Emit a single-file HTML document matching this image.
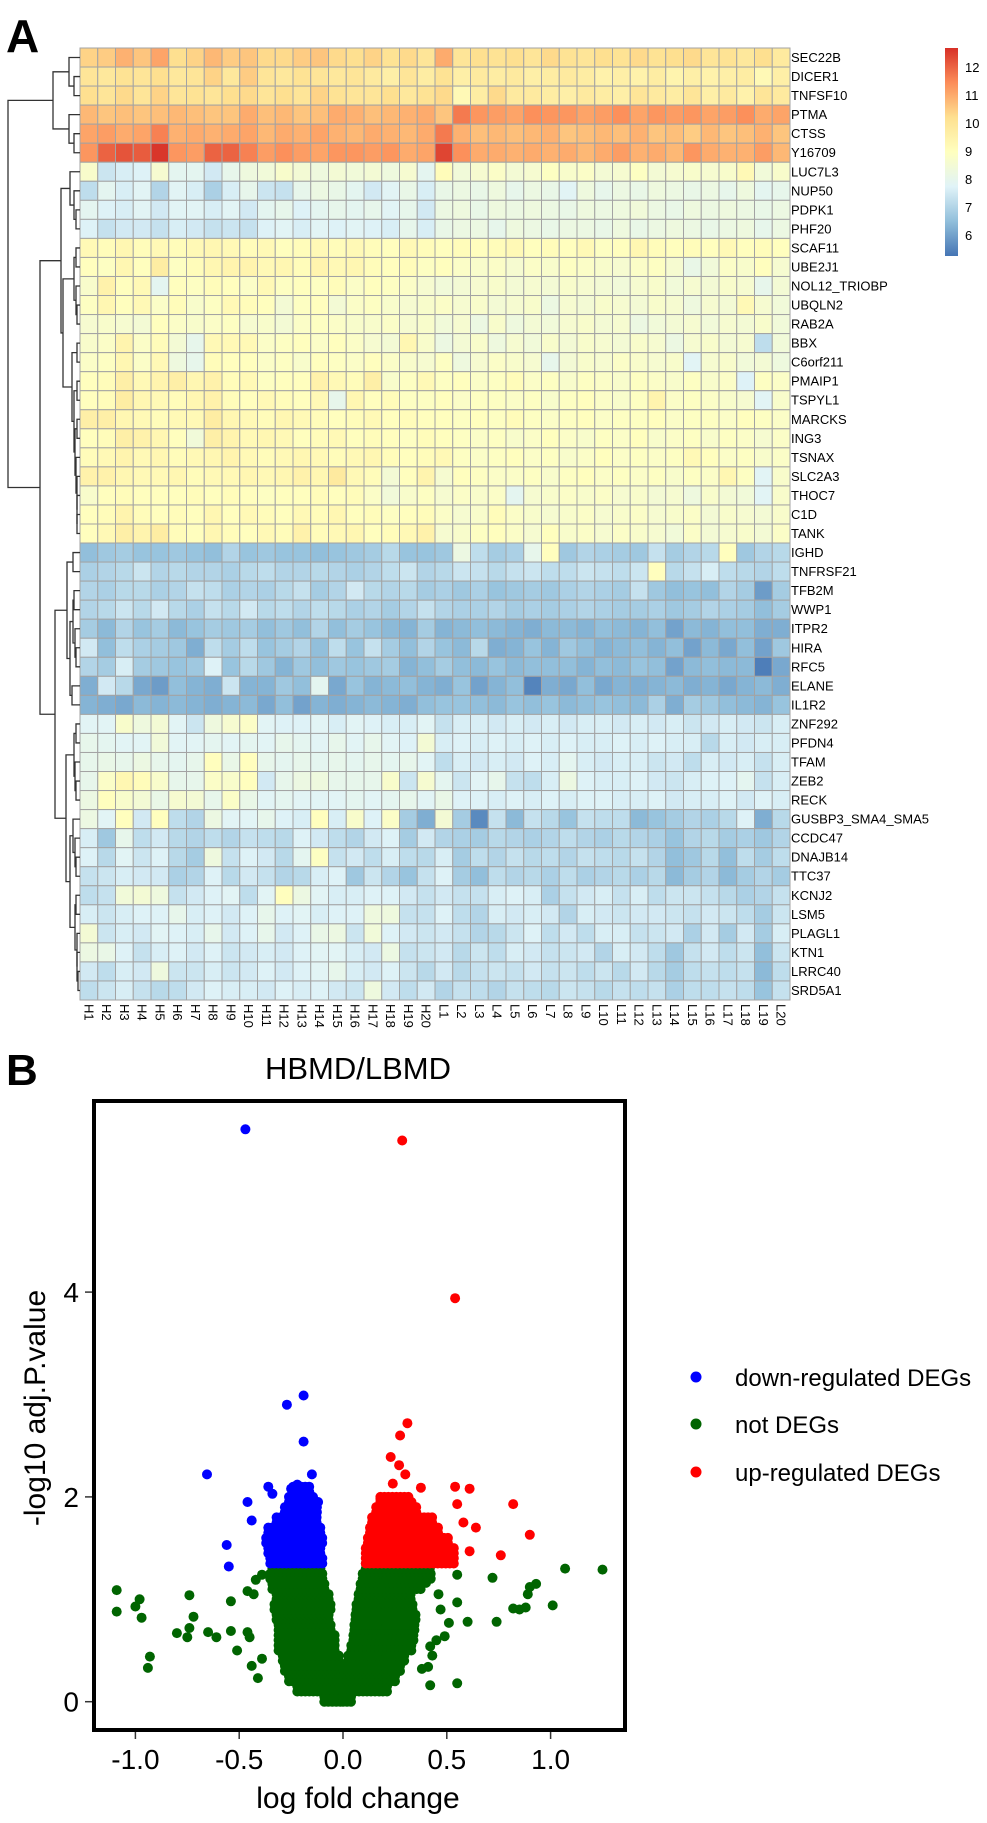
<!DOCTYPE html>
<html><head><meta charset="utf-8"><style>
html,body{margin:0;padding:0;background:#fff;}
svg{display:block;font-family:"Liberation Sans",Arial,sans-serif;}
</style></head><body>
<svg id="fig" width="987" height="1823" viewBox="0 0 987 1823" xmlns="http://www.w3.org/2000/svg">
<defs>
<linearGradient id="cbar" x1="0" y1="1" x2="0" y2="0">
<stop offset="0" stop-color="#4575B4"/><stop offset="0.1667" stop-color="#91BFDB"/><stop offset="0.3333" stop-color="#E0F3F8"/><stop offset="0.5" stop-color="#FFFFBF"/><stop offset="0.6667" stop-color="#FEE090"/><stop offset="0.8333" stop-color="#FC8D59"/><stop offset="1" stop-color="#D73027"/>
</linearGradient>
</defs>
<text x="6" y="52" font-size="46" font-weight="bold">A</text>
<text x="6" y="1085" font-size="44" font-weight="bold">B</text>
<g id="heat"></g>
<g id="dendro"></g>
<g id="rowlabels"></g>
<g id="collabels"></g>
<g>
<rect x="945" y="48" width="13" height="208" fill="url(#cbar)"/>
<g id="cticks"></g>
</g>
<text x="358" y="1079" font-size="31" text-anchor="middle">HBMD/LBMD</text>
<g id="volcano"></g>
<rect x="94" y="1101" width="531" height="629" fill="none" stroke="#000" stroke-width="4"/>
<g id="axes"></g>
<text x="358" y="1808" font-size="30" text-anchor="middle">log fold change</text>
<text x="0" y="0" font-size="30" text-anchor="middle" transform="translate(45,1408) rotate(-90)">-log10 adj.P.value</text>
<g>
<circle cx="696" cy="1377" r="5.5" fill="#0000FF"/>
<text x="735" y="1386" font-size="24">down-regulated DEGs</text>
<circle cx="696" cy="1424" r="5.5" fill="#006400"/>
<text x="735" y="1433" font-size="24">not DEGs</text>
<circle cx="696" cy="1472" r="5.5" fill="#FF0000"/>
<text x="735" y="1481" font-size="24">up-regulated DEGs</text>
</g>
</svg>
<script>
const NS="http://www.w3.org/2000/svg";
const geneNames=["SEC22B","DICER1","TNFSF10","PTMA","CTSS","Y16709","LUC7L3","NUP50","PDPK1","PHF20","SCAF11","UBE2J1","NOL12_TRIOBP","UBQLN2","RAB2A","BBX","C6orf211","PMAIP1","TSPYL1","MARCKS","ING3","TSNAX","SLC2A3","THOC7","C1D","TANK","IGHD","TNFRSF21","TFB2M","WWP1","ITPR2","HIRA","RFC5","ELANE","IL1R2","ZNF292","PFDN4","TFAM","ZEB2","RECK","GUSBP3_SMA4_SMA5","CCDC47","DNAJB14","TTC37","KCNJ2","LSM5","PLAGL1","KTN1","LRRC40","SRD5A1"];
const sampleNames=["H1","H2","H3","H4","H5","H6","H7","H8","H9","H10","H11","H12","H13","H14","H15","H16","H17","H18","H19","H20","L1","L2","L3","L4","L5","L6","L7","L8","L9","L10","L11","L12","L13","L14","L15","L16","L17","L18","L19","L20"];
const colorTicks=[6,7,8,9,10,11,12];
const heatValues=[
[10.4,10.5,10.9,10.6,11.1,10.2,10.4,10.8,10.5,10.6,10.3,10.3,10.5,10.6,10.3,10.2,10.4,10.1,10.3,10.0,11.0,10.0,10.2,10.1,10.2,10.0,10.3,10.1,10.0,10.2,10.1,10.3,10.1,10.2,10.3,10.0,10.1,9.9,10.2,9.8],
[10.0,9.9,10.1,10.0,10.2,9.9,10.0,10.4,9.9,10.5,10.0,9.9,10.1,10.0,9.9,10.0,9.8,9.6,10.0,9.7,10.1,9.6,9.8,9.7,9.8,9.6,9.7,9.8,9.7,9.5,9.6,9.5,9.7,9.4,9.6,9.5,9.6,9.7,9.2,9.6],
[10.2,10.0,10.3,10.0,10.4,10.0,10.1,10.0,10.2,10.3,10.0,10.2,10.0,10.4,10.1,10.0,10.0,10.2,9.9,10.1,10.3,9.2,9.7,10.3,9.8,9.8,9.7,9.6,9.8,9.7,9.6,10.0,9.8,9.7,10.0,9.6,9.8,9.5,10.0,9.8],
[10.8,10.6,10.7,10.6,10.7,10.8,10.7,10.6,10.6,11.0,10.7,10.8,10.6,10.7,11.0,10.9,10.7,10.8,10.9,11.0,10.6,11.7,11.3,11.2,11.1,11.4,11.3,11.3,11.1,11.2,11.4,11.1,11.3,11.2,11.3,11.1,11.2,11.4,11.0,11.1],
[11.1,11.2,11.0,11.1,11.6,10.9,11.0,10.9,11.0,11.1,10.8,11.0,10.9,11.1,10.9,10.8,11.0,10.9,10.8,11.0,11.7,10.9,10.7,10.8,10.7,10.8,10.9,10.6,10.7,10.8,10.7,10.9,10.6,10.7,10.5,10.8,10.6,10.7,10.9,10.6],
[11.3,12.0,12.2,12.1,12.6,11.3,11.2,12.0,12.0,11.6,11.2,11.4,11.2,11.1,11.3,11.3,11.2,11.3,11.0,11.1,12.4,11.4,11.0,11.0,10.9,11.0,10.9,11.0,10.8,11.0,11.2,10.9,11.0,10.8,11.3,11.0,10.9,10.9,11.2,10.8],
[8.7,7.4,7.6,7.7,8.6,7.9,7.9,7.5,8.0,8.3,8.4,8.7,8.5,8.3,8.5,8.4,8.5,8.3,8.6,7.9,9.1,8.4,8.6,8.8,8.5,8.6,8.9,8.7,8.8,8.5,8.6,8.9,8.5,8.6,8.7,8.6,8.7,9.2,8.4,8.7],
[7.2,7.9,7.6,7.8,7.0,7.8,7.6,6.9,7.6,8.0,7.4,7.3,8.0,8.2,8.1,7.9,7.5,7.8,8.1,7.6,8.1,8.2,8.1,8.3,8.0,8.2,8.1,7.8,8.3,8.0,8.2,8.1,8.3,8.2,8.1,8.2,8.0,8.3,7.9,8.0],
[7.9,7.7,7.6,7.8,7.5,7.8,7.8,7.6,7.8,7.5,7.9,8.0,7.7,7.9,8.0,7.9,8.0,7.8,8.0,7.5,8.2,8.3,8.1,8.3,8.2,8.3,8.2,8.1,8.3,8.2,8.3,8.4,8.2,8.1,8.3,8.2,8.3,8.2,8.1,8.2],
[7.7,7.3,7.5,7.5,7.3,7.6,7.5,7.3,7.4,7.3,7.7,7.8,7.6,7.8,7.7,7.8,7.7,7.6,8.0,7.6,8.1,8.2,8.2,8.0,8.3,8.2,8.1,8.2,8.2,8.1,8.3,8.1,8.2,8.3,8.2,8.1,8.2,8.3,8.0,8.2],
[9.2,9.1,9.3,9.1,9.2,9.1,9.2,9.3,9.2,9.1,9.2,9.0,9.1,9.2,9.1,9.2,9.1,9.0,9.2,9.1,9.0,9.1,9.0,9.1,9.2,9.0,9.1,9.0,9.2,8.9,9.0,9.3,9.1,9.0,9.1,9.0,9.2,9.0,9.1,9.0],
[9.0,8.9,9.3,9.0,9.7,8.9,9.1,9.3,9.4,9.4,9.2,9.3,9.1,9.4,9.2,9.3,9.1,9.0,9.1,8.9,9.0,8.8,8.7,8.8,8.6,8.8,8.7,8.9,8.8,8.7,8.6,8.8,8.9,8.6,8.1,8.4,8.8,8.7,9.0,8.6],
[8.7,9.5,9.0,9.2,7.9,9.0,8.9,9.1,9.0,8.8,9.2,8.9,9.0,8.9,9.1,8.8,9.0,8.9,8.8,8.6,8.4,8.5,8.6,8.7,8.5,8.6,8.5,8.7,8.6,8.5,8.4,8.6,8.7,8.4,8.6,8.5,8.7,8.6,8.0,8.5],
[8.9,9.3,9.0,9.2,8.8,9.1,8.7,8.9,9.2,9.1,9.0,8.5,8.9,9.0,8.5,8.8,8.9,8.7,8.6,8.7,8.8,8.6,8.7,8.5,8.6,8.7,8.2,8.6,8.5,8.7,8.6,8.5,8.7,8.6,8.3,8.6,8.5,9.2,8.6,8.4],
[8.6,8.7,8.6,8.5,9.0,8.8,8.7,8.8,8.9,8.6,8.7,8.5,8.8,8.9,8.8,8.7,8.7,8.8,8.6,8.7,8.4,8.6,8.2,8.7,8.3,8.5,8.4,8.6,8.7,8.5,8.6,8.2,8.4,8.5,8.6,8.4,8.6,8.5,8.7,8.4],
[8.7,8.8,9.4,8.8,9.1,8.5,8.0,9.2,9.2,9.2,8.8,8.9,9.0,8.8,9.0,8.8,8.6,8.5,9.3,8.7,8.2,8.5,8.7,8.3,8.6,8.4,8.7,8.5,8.7,8.6,8.5,8.7,8.6,8.2,8.6,8.7,8.5,8.6,7.2,8.4],
[8.8,8.9,9.3,8.8,9.2,8.3,8.0,9.1,9.0,9.0,8.8,8.9,8.7,9.0,8.9,8.8,9.0,8.8,8.7,8.6,8.9,8.3,8.6,8.8,8.7,8.6,8.0,8.5,8.7,8.6,8.8,8.7,8.6,8.7,7.8,8.6,8.7,8.4,8.5,8.3],
[9.0,9.1,9.6,9.2,9.4,9.6,9.3,9.5,9.1,9.2,8.9,9.0,9.0,9.5,9.2,9.1,9.6,8.7,8.9,9.2,8.9,9.0,8.8,8.9,9.1,8.8,8.9,8.7,8.9,8.8,8.7,8.9,8.8,8.7,8.9,8.7,8.8,7.7,8.9,8.8],
[9.0,9.1,9.7,9.3,9.2,9.1,9.3,9.5,9.1,9.0,9.2,9.1,9.0,9.2,8.0,9.3,9.0,9.1,8.9,8.9,9.0,8.8,8.9,8.9,8.8,8.9,8.7,8.9,9.0,8.8,8.7,8.9,9.4,8.8,8.9,8.8,8.7,8.6,7.8,8.7],
[9.6,9.6,9.3,9.2,9.1,9.2,9.2,9.7,9.3,9.2,9.1,9.3,9.2,9.1,9.0,9.1,9.2,9.0,9.1,9.0,9.0,8.9,9.0,8.9,9.1,8.9,8.8,8.9,9.0,8.8,8.9,8.9,9.0,8.8,8.9,8.9,8.8,9.0,8.9,8.8],
[9.0,9.1,9.6,9.5,9.3,9.0,8.4,9.6,9.4,9.2,9.3,9.2,9.0,9.1,9.2,9.0,9.1,9.0,8.9,9.1,9.0,8.9,8.8,8.9,8.7,8.8,9.0,8.8,8.7,8.9,8.8,9.0,8.7,8.8,8.9,8.7,8.9,8.8,8.6,8.8],
[9.1,9.2,9.4,9.2,9.3,9.1,9.2,9.3,9.4,9.2,9.1,9.2,9.3,9.2,9.1,9.2,9.3,9.1,9.0,9.1,9.2,8.9,8.8,8.9,9.0,8.8,8.9,8.7,8.8,9.0,8.8,8.9,8.8,8.9,9.2,9.0,8.8,8.9,8.7,8.8],
[9.5,9.5,9.3,9.2,9.2,9.3,9.1,9.2,9.2,9.3,9.2,9.3,9.5,9.3,9.8,9.2,9.1,8.5,9.0,9.4,8.6,9.0,8.9,8.8,8.8,8.9,8.7,8.9,9.0,8.8,8.9,8.8,8.9,8.7,8.9,8.8,9.3,8.9,7.8,8.7],
[8.7,9.0,9.1,9.0,9.0,9.0,9.1,9.0,9.1,9.0,8.9,9.0,9.0,9.1,9.0,9.1,8.8,8.4,8.7,8.9,8.6,8.8,8.7,8.8,7.9,8.6,8.7,8.8,8.7,8.8,8.6,8.7,8.5,8.6,8.3,8.7,8.5,8.4,7.8,8.7],
[9.0,9.1,9.4,9.1,9.0,9.1,9.0,9.3,9.0,9.2,9.1,9.0,9.2,9.1,9.3,9.0,9.1,8.9,9.0,9.1,8.8,8.6,8.7,9.1,8.8,8.7,8.6,8.7,8.8,8.6,8.7,8.8,8.6,8.7,8.8,8.5,8.7,8.6,8.5,8.7],
[9.0,9.2,9.6,9.4,9.7,9.1,9.0,9.3,9.1,9.0,9.2,9.1,9.5,9.1,9.2,9.3,9.0,9.1,9.2,9.5,8.6,8.7,8.9,9.0,8.8,8.6,9.0,8.7,8.8,8.6,8.8,8.7,8.6,8.4,8.8,8.5,8.6,8.7,8.5,8.8],
[6.5,6.7,6.8,6.6,6.6,6.7,6.6,6.5,7.0,6.6,6.7,6.6,6.6,6.5,6.6,6.7,6.8,7.1,6.6,6.6,6.7,8.2,7.2,6.8,6.9,8.0,9.0,6.7,7.0,6.9,6.8,6.7,7.3,6.8,7.0,7.1,9.0,6.7,7.0,7.1],
[6.9,7.0,7.1,7.4,7.0,7.1,7.0,7.0,6.9,7.1,7.2,7.0,7.0,7.1,7.0,6.9,7.0,7.2,7.4,7.0,7.1,7.4,7.3,7.1,7.3,7.4,7.2,7.2,7.4,7.3,7.2,7.4,9.0,7.1,7.3,7.6,7.2,7.1,7.0,7.2],
[7.0,6.9,7.1,7.1,6.9,7.0,7.3,7.2,6.9,7.0,6.9,7.1,7.3,6.8,7.0,7.5,7.1,7.0,7.1,6.8,6.9,6.7,6.9,6.6,6.7,6.8,6.7,6.9,7.0,6.9,6.8,7.3,6.7,6.5,6.6,6.5,7.0,6.8,5.9,6.8],
[7.0,7.1,7.4,7.1,7.5,7.1,6.9,7.3,7.1,7.5,7.1,7.2,7.0,7.2,7.1,6.9,7.0,6.8,7.0,7.3,7.0,6.9,6.9,7.0,6.8,6.9,6.8,6.9,7.0,6.9,6.8,6.8,6.9,6.7,6.8,7.0,6.9,6.8,6.5,6.8],
[6.8,6.4,7.0,6.6,6.8,6.4,6.6,6.8,6.7,6.8,6.5,6.7,6.5,7.0,6.5,6.8,6.6,6.4,6.3,6.8,6.3,6.4,6.5,6.4,6.3,6.2,6.4,6.4,6.3,6.5,6.4,6.3,6.5,6.0,6.4,6.3,6.5,6.5,6.2,6.2],
[7.5,6.5,7.2,6.9,6.8,6.7,6.2,7.2,6.8,7.2,6.6,6.8,7.0,6.5,7.2,6.6,7.3,6.8,6.5,7.0,6.6,6.4,7.1,6.2,6.3,6.6,6.3,6.7,6.5,6.3,6.4,6.5,6.3,6.5,6.0,6.4,6.1,6.5,6.0,6.7],
[7.0,6.8,7.6,6.8,6.7,6.6,6.7,7.7,6.6,7.1,6.7,6.3,6.7,6.5,6.7,6.6,6.7,6.8,6.3,6.5,6.8,6.5,6.4,6.6,6.4,6.5,6.5,6.5,6.3,6.5,6.4,6.6,6.5,6.0,6.4,6.5,6.4,6.4,5.4,6.1],
[6.2,7.5,7.1,6.1,5.9,6.5,6.3,6.2,7.4,6.3,6.3,6.7,6.5,7.9,6.1,6.6,6.3,6.4,6.5,6.3,6.2,6.6,6.0,6.3,6.5,5.5,6.2,6.1,6.5,6.1,6.3,6.2,6.3,6.4,6.2,6.3,6.1,6.3,6.4,6.2],
[6.3,6.2,6.1,6.4,6.3,6.4,6.3,6.2,6.3,6.4,6.1,6.5,6.0,6.3,6.2,6.3,6.4,6.3,6.2,6.5,6.6,6.6,6.5,6.4,6.6,6.5,6.6,6.4,6.5,6.6,6.5,6.4,6.9,6.2,6.8,6.7,6.5,6.4,6.3,6.6],
[7.8,7.8,8.7,8.3,8.5,7.8,7.4,8.3,8.6,8.8,7.8,7.7,7.7,7.8,7.6,7.8,7.7,7.6,7.6,7.8,7.3,7.6,7.6,7.5,7.6,7.5,7.6,7.5,7.6,7.6,7.5,7.6,7.5,7.6,7.4,7.5,7.6,7.5,7.4,7.6],
[8.0,7.9,7.8,7.8,8.4,7.8,7.8,7.9,7.8,7.9,7.8,8.0,7.9,7.8,8.0,7.8,8.0,7.8,7.7,8.5,7.6,7.7,7.6,7.7,7.6,7.7,7.6,7.7,7.6,7.6,7.7,7.6,7.7,7.6,7.6,7.1,7.6,7.5,7.6,7.6],
[8.0,8.1,8.0,8.2,8.0,7.9,8.0,9.0,8.1,9.0,8.0,7.9,8.0,7.9,8.0,7.9,8.0,7.9,8.0,7.8,7.2,7.6,7.5,7.6,7.5,7.7,7.6,7.9,7.6,7.5,7.6,7.6,7.4,7.5,7.2,7.6,7.5,7.6,7.3,7.6],
[8.0,8.8,9.3,9.1,8.7,8.0,8.0,8.8,8.7,9.0,7.5,8.0,8.2,8.3,8.0,8.0,8.0,8.7,7.4,8.6,7.9,7.4,7.8,8.0,7.3,7.2,7.6,8.2,7.7,7.6,7.6,7.7,7.5,7.4,7.6,7.7,7.7,7.9,7.3,7.6],
[8.2,9.0,8.7,8.5,8.1,8.6,8.5,8.0,8.8,8.1,7.8,7.9,7.8,7.8,7.8,7.9,7.8,7.9,8.0,7.8,8.1,7.7,7.7,7.6,7.7,7.6,7.7,7.6,7.7,7.7,7.6,7.6,7.7,7.5,7.6,7.6,7.7,7.5,7.7,7.6],
[8.2,7.8,9.0,7.5,9.0,7.2,7.0,8.2,7.8,7.8,8.0,7.7,7.6,9.0,7.6,8.7,7.7,8.8,6.8,6.2,8.5,6.8,5.6,7.3,6.4,7.3,7.1,6.6,7.3,7.2,7.2,6.4,6.6,6.8,7.0,6.9,7.1,7.7,6.2,7.1],
[7.6,6.7,8.0,7.2,7.5,7.1,7.0,7.2,7.0,7.3,7.2,7.1,7.7,7.5,7.2,7.0,7.5,7.7,6.8,7.5,7.0,6.9,6.8,7.1,7.0,6.9,7.0,7.2,7.0,6.9,7.1,7.0,6.9,6.6,7.0,7.1,6.8,6.9,6.7,7.0],
[7.7,7.1,7.8,7.4,7.7,7.1,6.8,8.3,7.3,7.7,7.5,7.1,7.9,8.9,7.3,7.5,7.2,7.6,7.2,7.1,7.6,6.8,7.2,7.0,7.3,7.1,7.2,7.0,7.3,7.2,7.1,7.3,7.0,6.5,6.7,7.1,6.5,7.2,6.8,7.2],
[7.3,7.4,7.6,7.5,7.5,6.9,7.0,7.7,7.1,7.5,7.3,7.0,7.1,7.6,7.7,6.7,7.4,7.0,6.6,7.3,7.7,6.8,6.5,7.2,7.0,7.1,6.9,7.2,6.9,7.0,7.1,6.9,7.1,6.4,6.8,7.0,6.4,6.8,7.0,6.8],
[7.2,7.3,8.4,8.5,8.3,7.3,7.5,7.7,7.8,7.2,7.8,9.0,8.2,7.8,7.6,7.6,7.7,7.7,7.5,7.3,7.5,7.3,7.3,7.6,7.7,7.6,6.9,7.3,7.5,7.6,7.3,7.6,7.2,7.4,7.4,7.3,7.1,6.9,7.0,7.3],
[7.6,7.4,7.6,7.7,7.7,8.0,7.6,7.7,7.5,7.7,8.0,7.7,7.8,7.6,7.7,7.7,8.3,8.3,7.3,7.3,7.7,7.2,7.0,7.6,7.5,7.6,7.5,7.0,7.6,7.5,7.4,7.5,7.5,7.4,7.3,7.5,7.4,7.2,6.8,7.4],
[8.5,7.4,7.6,7.5,7.8,7.7,7.6,8.0,7.5,7.7,8.0,7.5,7.7,8.1,8.2,7.4,8.4,7.7,7.5,7.4,7.5,7.3,7.0,7.1,7.4,7.7,7.2,7.5,7.2,7.6,7.6,7.3,7.4,7.5,6.9,7.5,6.8,7.5,6.8,7.6],
[8.2,8.1,7.7,7.3,7.6,7.7,7.5,7.7,7.4,7.5,7.6,7.5,7.7,7.8,7.8,7.6,7.5,8.2,7.3,7.4,7.5,7.1,7.4,7.2,7.6,7.5,7.3,7.4,7.5,7.0,7.6,7.5,7.2,6.7,7.3,7.5,7.2,7.4,6.5,7.4],
[7.5,7.2,7.6,7.5,8.3,7.4,7.4,7.6,7.4,7.5,7.7,7.5,7.7,7.8,8.0,7.6,7.5,7.7,7.4,7.1,7.5,7.1,7.3,7.4,7.3,7.5,7.3,7.4,7.2,7.4,7.1,7.5,7.1,6.8,7.2,7.3,7.2,7.3,6.4,7.2],
[7.2,7.4,7.6,7.3,7.1,7.2,7.5,7.7,7.6,7.6,7.5,7.7,7.6,7.7,7.5,7.4,8.3,7.5,7.2,7.5,7.0,7.3,7.2,7.0,7.3,7.2,7.1,7.4,7.3,7.1,7.3,7.2,7.3,6.9,7.2,7.2,7.3,7.2,6.6,7.3]
];
// dendrogram merges: [left, right, node x-position]
const rowTree=[[[0,[1,2,74],69],[3,[4,5,74],69],53],
 [[[6,[7,[8,9,76],74],70],[[[10,11,76],[12,[13,14,77],76],74],[[15,16,77],[[17,18,77],[[19,20,77],[21,[22,[23,[24,25,77],77],77],76],75],74],72],63],61],
  [[[26,27,73],[[[28,29,74],[30,[31,32,76],75],73],[33,34,72],70],67],
   [[[35,36,76],[37,[38,39,76],75],74],[[40,[41,[42,43,76],75],73],[[44,45,76],[46,[47,[48,49,78],77],77],75],70],66],55],40],8];

// volcano data
const downX=[-0.47,-0.27,-0.19,-0.19,-0.655,-0.15,-0.36,-0.34,-0.46,-0.44,-0.56,-0.55,-0.12,-0.22,-0.30,-0.25];
const downY=[5.59,2.90,2.99,2.54,2.22,2.22,2.10,2.03,1.95,1.77,1.53,1.32,1.95,2.12,1.70,2.08];
const upX=[0.285,0.54,0.31,0.275,0.23,0.27,0.30,0.24,0.375,0.54,0.61,0.55,0.82,0.90,0.64,0.76,0.61,0.18,0.33,0.58,0.50];
const upY=[5.48,3.94,2.72,2.60,2.39,2.31,2.22,2.13,2.09,2.10,2.08,1.93,1.93,1.63,1.70,1.43,1.47,1.98,1.95,1.75,1.52];
const notX=[1.07,1.25,0.72,0.93,0.90,0.89,1.01,0.88,0.85,0.82,0.74,0.60,0.55,0.51,0.49,0.42,0.41,0.38,0.42,0.55,0.55,0.40,-1.09,-1.09,-1.00,-0.98,-0.97,-0.93,-0.94,-0.74,-0.72,-0.74,-0.75,-0.80,-0.65,-0.61,-0.54,-0.54,-0.51,-0.46,-0.43,-0.46,-0.45,-0.44,-0.41,-0.39,-0.42,-0.39,0.47,0.45,0.43,0.46];
const notY=[1.30,1.29,1.21,1.15,1.12,1.05,0.94,0.92,0.90,0.91,0.78,0.78,0.97,0.77,0.64,0.54,0.34,0.32,0.16,0.18,1.24,1.16,1.09,0.88,0.93,1.00,0.82,0.44,0.33,1.04,0.83,0.72,0.63,0.67,0.68,0.63,0.69,0.98,0.50,1.08,1.05,0.68,0.63,0.35,0.23,0.42,1.19,1.24,0.90,0.60,0.45,1.05];
const notBandY=[0.0,0.1,0.2,0.3,0.4,0.5,0.6,0.7,0.8,0.9,1.0,1.1,1.2,1.3];
const notLeftOuter=[-0.09,-0.22,-0.26,-0.28,-0.29,-0.31,-0.31,-0.31,-0.32,-0.33,-0.32,-0.34,-0.35,-0.34];
const notLeftInner=[0,0,0,-0.005,-0.02,-0.035,-0.04,-0.045,-0.055,-0.06,-0.065,-0.075,-0.085,-0.095];
const notRightInner=[0,0,0,0.005,0.025,0.04,0.05,0.055,0.06,0.065,0.075,0.085,0.095,0.11];
const notRightOuter=[0.05,0.23,0.26,0.28,0.31,0.34,0.35,0.35,0.35,0.35,0.34,0.38,0.43,0.43];
const downBandY=[1.35,1.45,1.55,1.65,1.75,1.85,1.95,2.05];
const downLo=[-0.35,-0.36,-0.37,-0.36,-0.32,-0.28,-0.26,-0.24];
const downHi=[-0.10,-0.10,-0.10,-0.11,-0.11,-0.12,-0.13,-0.15];
const upBandY=[1.35,1.45,1.55,1.65,1.75,1.85,1.95];
const upLo=[0.11,0.11,0.12,0.13,0.14,0.16,0.18];
const upHi=[0.54,0.55,0.51,0.47,0.43,0.37,0.32];
const xTicks=[-1.0,-0.5,0.0,0.5,1.0];
const xTickLabels=["-1.0","-0.5","0.0","0.5","1.0"];
const yTicks=[0,2,4];

function el(tag,attrs,parent){const e=document.createElementNS(NS,tag);for(const k in attrs)e.setAttribute(k,attrs[k]);parent.appendChild(e);return e;}

// heatmap geometry
const HX0=80,HX1=790,HY0=48,HY1=1000;
const cw=(HX1-HX0)/sampleNames.length, rh=(HY1-HY0)/geneNames.length;
const palette=[[0x45,0x75,0xB4],[0x91,0xBF,0xDB],[0xE0,0xF3,0xF8],[0xFF,0xFF,0xBF],[0xFE,0xE0,0x90],[0xFC,0x8D,0x59],[0xD7,0x30,0x27]];
const vmin=5.25,vmax=12.68;
function colorOf(v){let t=(v-vmin)/(vmax-vmin);t=Math.max(0,Math.min(1,t))*6;const i=Math.min(5,Math.floor(t)),f=t-i;const a=palette[i],b=palette[i+1];return "rgb("+a.map((c,k)=>Math.round(c+(b[k]-c)*f)).join(",")+")";}
const heat=document.getElementById('heat');
heatValues.forEach((row,r)=>{row.forEach((v,c)=>{
 const rc=el('rect',{x:HX0+c*cw,y:HY0+r*rh,width:cw,height:rh,fill:colorOf(v),stroke:'#A3A3A3','stroke-width':1},heat);
 
 
});});
const rl=document.getElementById('rowlabels');
geneNames.forEach((g,r)=>{const t=el('text',{x:791,y:HY0+(r+0.5)*rh+4.5,'font-size':13},rl);t.textContent=g;
 
 });
const cl=document.getElementById('collabels');
sampleNames.forEach((s,c)=>{const cx=HX0+(c+0.5)*cw-4.5;const t=el('text',{x:0,y:0,'font-size':13,transform:'translate('+cx+',1004) rotate(90)'},cl);t.textContent=s;
 
 });
const ct=document.getElementById('cticks');
colorTicks.forEach(v=>{const y=48+(vmax-v)/(vmax-vmin)*208;const t=el('text',{x:965,y:y+5,'font-size':13},ct);t.textContent=v;
 
 });

// dendrogram
const dg=document.getElementById('dendro');
function drawNode(n){
 if(typeof n==='number')return {x:HX0,y:HY0+(n+0.5)*rh};
 const a=drawNode(n[0]),b=drawNode(n[1]),x=n[2];
 const p=el('path',{d:'M'+a.x+','+a.y+'H'+x+'V'+b.y+'H'+b.x,fill:'none',stroke:'#333','stroke-width':1.3},dg);
 
 
 return {x:x,y:(a.y+b.y)/2};
}
drawNode(rowTree);

// volcano scales
const PX0=343,PXU=207.6,PY0=1701.7,PYU=102.4;
const sx=v=>PX0+v*PXU, sy=v=>PY0-v*PYU;
const vg=document.getElementById('volcano');
function dot(x,y,col,name){const c=el('circle',{cx:sx(x).toFixed(1),cy:sy(y).toFixed(1),r:5,fill:col},vg);
 
 }
function band(ys,lo,hi,col,name){
 ys.forEach((y,i)=>{[0,0.05].forEach(dy=>{
  const x0=sx(lo[i]),x1=sx(hi[i]);
  for(let px=x0;px<=x1+0.1;px+=4){const c=el('circle',{cx:px.toFixed(1),cy:sy(y+dy).toFixed(1),r:5,fill:col},vg);
   
   }
 });});
}
band(notBandY,notLeftOuter,notLeftInner,'#006400','not-deg-point');
band(notBandY,notRightInner,notRightOuter,'#006400','not-deg-point');
notX.forEach((x,i)=>dot(x,notY[i],'#006400','not-deg-point'));
band(downBandY,downLo,downHi,'#0000FF','down-deg-point');
band(upBandY,upLo,upHi,'#FF0000','up-deg-point');
downX.forEach((x,i)=>dot(x,downY[i],'#0000FF','down-deg-point'));
upX.forEach((x,i)=>dot(x,upY[i],'#FF0000','up-deg-point'));

// axes
const ax=document.getElementById('axes');
xTicks.forEach((v,i)=>{const x=sx(v);
 const l=el('line',{x1:x,y1:1732,x2:x,y2:1739,stroke:'#333','stroke-width':1.5},ax);
 
 
 const t=el('text',{x:x,y:1769,'font-size':28,'text-anchor':'middle'},ax);t.textContent=xTickLabels[i];
 
 });
yTicks.forEach(v=>{const y=sy(v);
 const l=el('line',{x1:85,y1:y,x2:92,y2:y,stroke:'#333','stroke-width':1.5},ax);
 
 
 const t=el('text',{x:79,y:y+10,'font-size':28,'text-anchor':'end'},ax);t.textContent=v;
 
 });
</script>
</body></html>
